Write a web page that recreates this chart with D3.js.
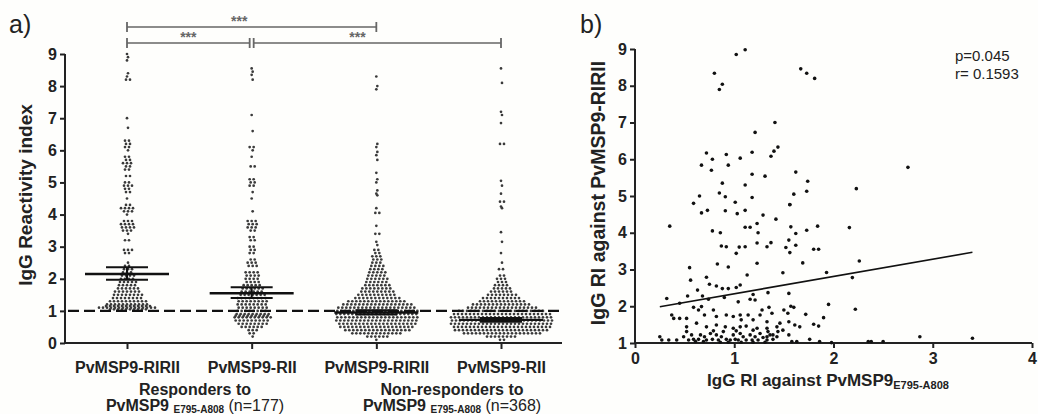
<!DOCTYPE html>
<html>
<head>
    <script src="https://d3js.org/d3.v7.min.js"></script>
    <style>
        body { margin: 0; background: #fefefc; }
        svg { display: block; font-family: 'Liberation Sans', Arial, sans-serif; }
        .axis path, .axis line { stroke: #222; stroke-width: 2; }
        .axis text { font-size: 16px; font-weight: bold; fill: #222; }
    </style>
</head>
<body>
<div id="chart"></div>
<script>
    const groupNames = ["PvMSP9-RIRII", "PvMSP9-RII", "PvMSP9-RIRII", "PvMSP9-RII"];
    const respRIRII = [[9.0,1],[8.9,1],[8.8,1],[8.4,1],[8.3,1],[8.2,2],[7.0,1],[6.7,1],[6.3,2],[6.2,2],[6.1,2],[6.0,1],
        [5.8,2],[5.7,2],[5.6,3],[5.5,2],[5.4,2],[5.2,2],[5.0,2],[4.9,3],[4.8,2],[4.7,2],[4.5,1],[4.3,2],[4.2,4],[4.1,3],
        [4.0,1],[3.8,3],[3.7,4],[3.6,4],[3.5,3],[3.4,1],[3.2,2],[2.9,3],[2.8,2],[2.5,1],[2.4,2],[2.3,3],[2.2,3],[2.1,4],
        [2.0,4],[1.9,5],[1.8,5],[1.7,6],[1.6,7],[1.5,8],[1.4,8],[1.3,10],[1.2,11],[1.15,12],[1.1,15],[1.05,10]];
    const respRII = [[8.55,1],[8.45,1],[8.35,1],[8.2,1],[7.1,1],[6.6,1],[6.1,2],[6.0,1],[5.8,1],[5.5,2],[5.1,2],[5.0,2],
        [4.9,2],[4.7,1],[4.5,1],[4.1,1],[3.8,3],[3.7,3],[3.6,3],[3.5,2],[3.3,2],[3.2,2],[3.0,2],[2.9,2],[2.8,2],[2.6,2],
        [2.5,3],[2.4,3],[2.2,4],[2.1,4],[2.0,4],[1.9,4],[1.8,5],[1.7,6],[1.6,6],[1.5,7],[1.4,8],[1.3,8],[1.2,8],[1.1,8],
        [1.0,8],[0.9,9],[0.85,9],[0.8,10],[0.7,9],[0.6,8],[0.5,6],[0.4,3],[0.3,2],[0.2,1]];
    const nonRIRII = [[8.3,1],[8.0,1],[7.9,1],[6.2,1],[6.1,1],[5.95,1],[5.85,1],[5.7,1],[5.3,1],[5.1,1],[5.0,1],[4.75,1],
        [4.65,1],[4.6,1],[4.2,1],[4.05,2],[3.65,1],[3.4,2],[3.15,1],[3.05,1],[2.9,2],[2.8,2],[2.7,3],[2.6,3],[2.5,3],
        [2.4,4],[2.3,4],[2.2,5],[2.1,5],[2.0,6],[1.9,6],[1.8,7],[1.7,8],[1.6,9],[1.5,10],[1.4,12],[1.3,15],[1.2,18],
        [1.1,20],[1.0,21],[0.9,21],[0.8,21],[0.7,21],[0.6,20],[0.5,19],[0.4,17],[0.3,13],[0.2,6],[0.1,1]];
    const nonRII = [[8.55,1],[8.1,1],[7.2,1],[7.1,1],[6.85,1],[6.2,2],[5.05,1],[4.9,1],[4.65,1],[4.4,2],[4.25,1],[4.2,1],
        [3.45,1],[3.15,1],[2.8,1],[2.5,1],[2.3,2],[2.1,2],[2.0,3],[1.9,3],[1.8,4],[1.7,5],[1.6,6],[1.5,8],[1.4,10],
        [1.3,12],[1.2,15],[1.1,18],[1.0,22],[0.9,25],[0.8,26],[0.7,26],[0.6,26],[0.5,25],[0.4,24],[0.3,20],[0.2,8],[0.1,2]];
    const groupBins = [respRIRII, respRII, nonRIRII, nonRII];
    const means = [2.15, 1.55, 0.95, 0.72];
    const semHi = [2.36, 1.74, 1.02, 0.78];
    const semLo = [1.97, 1.40, 0.89, 0.66];
    const yTicksA = [0, 1, 2, 3, 4, 5, 6, 7, 8, 9];
    const cutoff = 1;
    // brackets: from group, to group, level (0 = top), label position fraction
    const brackets = [[0, 2, 0, 0.45], [0, 1, 1, 0.5], [1, 3, 1, 0.42]];

    // ---- panel b: [IgG RI E795-A808, IgG RI RIRII]
    const scatter = [[0.80,8.34],[0.85,7.90],[0.88,8.04],[1.02,8.85],[1.11,8.98],[1.41,7.00],[1.21,6.73],[0.72,6.17],
        [0.67,5.84],[0.78,6.00],[0.92,6.13],[0.77,5.70],[0.94,5.84],[1.06,6.03],[1.18,6.19],[1.37,6.08],[1.40,6.22],
        [1.44,6.33],[1.18,5.59],[1.31,5.54],[0.88,5.35],[0.65,5.00],[0.85,5.08],[0.91,4.98],[1.11,5.30],[1.18,4.96],
        [0.59,4.80],[1.01,4.83],[1.67,8.46],[1.73,8.34],[1.81,8.20],[1.62,5.65],[1.74,5.40],[1.73,5.13],[1.60,5.05],
        [1.56,4.76],[2.23,5.20],[2.75,5.78],[0.67,4.54],[0.73,4.61],[0.35,4.18],[0.78,4.05],[0.86,4.00],[0.91,4.60],
        [1.03,4.52],[1.11,4.61],[1.11,4.15],[1.16,4.15],[1.23,4.25],[1.24,4.00],[1.29,4.48],[1.42,4.37],[0.87,3.64],
        [0.92,3.62],[1.02,3.44],[1.05,3.61],[1.11,3.62],[1.23,3.72],[1.23,3.17],[1.33,3.62],[1.37,3.73],[0.83,3.15],
        [0.94,3.07],[1.13,2.85],[0.55,3.05],[0.56,2.71],[0.63,2.44],[0.72,2.79],[0.75,2.60],[0.82,2.55],[0.88,2.48],
        [0.94,2.48],[1.02,2.51],[1.06,2.58],[1.19,2.32],[1.34,2.37],[0.32,2.21],[0.45,2.08],[0.53,2.28],[0.68,2.28],
        [0.74,2.19],[0.90,2.24],[1.04,2.12],[1.16,2.19],[1.21,2.17],[1.28,1.90],[1.35,1.97],[1.38,1.81],[0.37,1.76],
        [0.39,1.67],[0.45,1.67],[0.52,1.67],[0.59,1.97],[0.64,1.90],[0.67,1.99],[0.70,1.76],[0.79,1.90],[0.82,1.72],
        [0.92,1.76],[0.99,1.72],[1.06,1.76],[1.07,1.63],[1.14,1.76],[1.19,1.63],[1.26,1.76],[1.33,1.58],[0.52,1.44],
        [0.62,1.54],[0.72,1.44],[0.82,1.49],[0.91,1.44],[0.99,1.40],[1.06,1.44],[1.12,1.46],[1.23,1.40],[1.33,1.40],
        [1.43,1.44],[1.56,4.77],[1.57,4.16],[1.62,3.98],[1.73,4.07],[1.84,4.18],[2.16,4.14],[1.55,3.80],[1.52,3.60],
        [1.62,3.66],[1.56,3.46],[1.80,3.55],[1.85,3.55],[1.69,3.18],[2.26,3.23],[1.49,2.91],[1.93,2.92],[2.19,2.78],
        [1.55,2.35],[1.95,2.05],[2.22,1.92],[1.57,2.00],[1.60,1.97],[1.50,1.90],[1.54,1.81],[1.72,1.78],[1.90,1.69],
        [1.80,1.51],[1.85,1.46],[1.61,1.49],[1.66,1.44],[1.55,1.58],[1.46,1.54],[1.49,1.35],[1.44,1.31],[1.55,1.22],
        [1.39,1.22],[1.33,1.17],[1.76,1.10],[1.86,1.04],[1.63,1.04],[1.98,1.01],[2.35,1.04],[2.38,1.04],[2.50,1.04],
        [2.87,1.17],[3.40,1.13],[1.58,1.04],[0.25,1.17],[0.27,1.08],[0.34,1.08],[0.42,1.08],[0.49,1.17],[0.54,1.08],
        [0.57,1.22],[0.59,1.10],[0.64,1.10],[0.66,1.22],[0.70,1.17],[0.72,1.08],[0.76,1.26],[0.78,1.10],[0.82,1.22],
        [0.84,1.08],[0.87,1.17],[0.89,1.31],[0.92,1.10],[0.96,1.08],[0.99,1.22],[1.01,1.10],[1.04,1.08],[1.06,1.26],
        [1.09,1.17],[1.12,1.08],[1.16,1.22],[1.18,1.08],[1.21,1.17],[1.24,1.08],[1.26,1.26],[1.29,1.15],[1.33,1.08],
        [1.36,1.22],[1.39,1.10],[1.43,1.17],[0.61,1.04],[0.69,1.04],[0.86,1.02],[0.94,1.02],[1.07,1.02],[1.19,1.02],
        [1.31,1.02],[0.79,1.33],[1.02,1.33],[1.19,1.35],[1.34,1.31],[0.52,1.31]];
    const regIntercept = 1.87, regSlope = 0.47;
    const xTicksB = [0, 1, 2, 3, 4];
    const yTicksB = [1, 2, 3, 4, 5, 6, 7, 8, 9];

    const W = 1038, H = 414;
    const svg = d3.select("#chart").append("svg").attr("width", W).attr("height", H);

    // ================= panel a =================
    const xA = d3.scalePoint().domain(d3.range(groupNames.length)).range([127, 501]);
    const yA = d3.scaleLinear().domain([0, 9]).range([343, 54]);

    svg.append("g").attr("class", "axis").attr("transform", "translate(65,0)")
        .call(d3.axisLeft(yA).tickValues(yTicksA).tickSize(5).tickPadding(3).tickFormat(d3.format("d")))
        .call(g => g.select(".domain").attr("d", `M0,${yA(9)}V${yA(0)}`));

    svg.append("g").attr("class", "axis").attr("transform", "translate(0,343)")
        .call(d3.axisBottom(xA).tickSize(6).tickPadding(13).tickFormat(i => groupNames[i]))
        .call(g => g.select(".domain").attr("d", "M65,0H562"))
        .call(g => g.selectAll(".tick text").attr("font-size", 17));

    // swarm dots
    groupBins.forEach((bins, gi) => {
        const dots = [];
        bins.forEach(([v, n], ri) => {
            const shift = (ri % 2) ? 1 : 0;
            for (let i = 0; i < n; i++) dots.push({ x: xA(gi) + (i - (n - 1) / 2) * 4 + shift, y: yA(v) });
        });
        svg.append("g").selectAll("circle").data(dots).join("circle")
            .attr("cx", d => d.x).attr("cy", d => d.y).attr("r", 1.35).attr("fill", "#3a3a3a");
    });

    // cutoff
    svg.append("line").attr("x1", 68).attr("x2", 562).attr("y1", yA(cutoff)).attr("y2", yA(cutoff))
        .attr("stroke", "#111").attr("stroke-width", 2.2).attr("stroke-dasharray", "11,5");

    // mean +- sem
    const ms = svg.append("g").attr("stroke", "#111");
    means.forEach((m, i) => {
        const cx = xA(i);
        ms.append("line").attr("x1", cx - 42).attr("x2", cx + 42).attr("y1", yA(m)).attr("y2", yA(m)).attr("stroke-width", 2.4);
        ms.append("line").attr("x1", cx - 21).attr("x2", cx + 21).attr("y1", yA(semHi[i])).attr("y2", yA(semHi[i])).attr("stroke-width", 2);
        ms.append("line").attr("x1", cx - 21).attr("x2", cx + 21).attr("y1", yA(semLo[i])).attr("y2", yA(semLo[i])).attr("stroke-width", 2);
        ms.append("line").attr("x1", cx).attr("x2", cx).attr("y1", yA(semHi[i])).attr("y2", yA(semLo[i])).attr("stroke-width", 2);
    });

    // significance brackets
    const bk = svg.append("g");
    brackets.forEach(([a, b, lvl, f]) => {
        const y = 27 + lvl * 16;
        const x1 = xA(a) + (lvl && a > 0 ? 2 : 0), x2 = xA(b) - (lvl && b < 3 ? 2 : 0);
        bk.append("line").attr("x1", x1).attr("x2", x2).attr("y1", y).attr("y2", y).attr("stroke", "#666").attr("stroke-width", 1.6);
        [x1, x2].forEach(x => bk.append("line").attr("x1", x).attr("x2", x).attr("y1", y - 5).attr("y2", y + 5)
            .attr("stroke", "#666").attr("stroke-width", 1.8));
        bk.append("text").attr("x", x1 + (x2 - x1) * f).attr("y", y - 1).attr("text-anchor", "middle")
            .attr("font-size", 14).attr("font-weight", "bold").attr("fill", "#666").text("***");
    });

    svg.append("text").attr("x", 9).attr("y", 33).attr("font-size", 25).attr("fill", "#222").text("a)");
    svg.append("text").attr("transform", "translate(32,195) rotate(-90)").attr("text-anchor", "middle")
        .attr("font-size", 19).attr("font-weight", "bold").attr("fill", "#222").text("IgG Reactivity index");

    function groupCaption(cx, n, line1) {
        svg.append("text").attr("x", cx).attr("y", 395).attr("text-anchor", "middle")
            .attr("font-size", 16).attr("font-weight", "bold").attr("fill", "#222").text(line1);
        const t = svg.append("text").attr("x", cx).attr("y", 411).attr("text-anchor", "middle")
            .attr("font-size", 16).attr("fill", "#222");
        t.append("tspan").attr("font-weight", "bold").text("PvMSP9 ");
        t.append("tspan").attr("font-weight", "bold").attr("font-size", 10).attr("dy", 2).text("E795-A808");
        t.append("tspan").attr("dy", -2).text(" (n=" + n + ")");
    }
    groupCaption(195, 177, "Responders to");
    groupCaption(452, 368, "Non-responders to");

    // ================= panel b =================
    const xB = d3.scaleLinear().domain([0, 4]).range([635, 1032]);
    const yB = d3.scaleLinear().domain([1, 9]).range([343, 49]);

    svg.append("g").attr("class", "axis").attr("transform", "translate(635,0)")
        .call(d3.axisLeft(yB).tickValues(yTicksB).tickSize(5).tickPadding(3).tickFormat(d3.format("d")))
        .call(g => g.select(".domain").attr("d", `M0,${yB(9)}V${yB(1)}`));
    svg.append("g").attr("class", "axis").attr("transform", "translate(0,343)")
        .call(d3.axisBottom(xB).tickValues(xTicksB).tickSize(5).tickPadding(5).tickFormat(d3.format("d")))
        .call(g => g.select(".domain").attr("d", `M${xB(0)},0H${xB(4)}`));

    svg.append("g").selectAll("circle").data(scatter).join("circle")
        .attr("cx", d => xB(d[0])).attr("cy", d => yB(d[1])).attr("r", 1.8).attr("fill", "#111");

    const xr = d3.extent(scatter, d => d[0]);
    svg.append("line").attr("x1", xB(xr[0])).attr("x2", xB(xr[1]))
        .attr("y1", yB(regIntercept + regSlope * xr[0])).attr("y2", yB(regIntercept + regSlope * xr[1]))
        .attr("stroke", "#111").attr("stroke-width", 1.6);

    svg.append("text").attr("x", 955).attr("y", 61).attr("font-size", 15).attr("fill", "#222").text("p=0.045");
    svg.append("text").attr("x", 955).attr("y", 79).attr("font-size", 15).attr("fill", "#222").text("r= 0.1593");

    svg.append("text").attr("x", 580).attr("y", 33).attr("font-size", 25).attr("fill", "#222").text("b)");
    svg.append("text").attr("transform", "translate(605,193) rotate(-90)").attr("text-anchor", "middle")
        .attr("font-size", 19.5).attr("font-weight", "bold").attr("fill", "#222").text("IgG RI against PvMSP9-RIRII");

    const xl = svg.append("text").attr("x", 828).attr("y", 386).attr("text-anchor", "middle")
        .attr("font-size", 17).attr("font-weight", "bold").attr("fill", "#222");
    xl.append("tspan").text("IgG RI against PvMSP9");
    xl.append("tspan").attr("font-size", 11).attr("dy", 3).text("E795-A808");
</script>
</body>
</html>
